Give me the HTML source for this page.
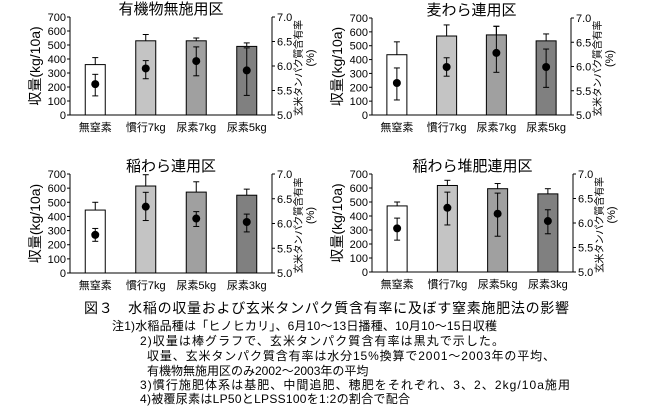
<!DOCTYPE html>
<html><head><meta charset="utf-8">
<style>
body{margin:0;background:#fff;width:652px;height:411px;overflow:hidden}
svg{display:block;font-family:"Liberation Sans","Noto Sans CJK JP",sans-serif}
</style></head><body>
<svg id="fig" width="652" height="411" viewBox="0 0 652 411">
<text x="84" y="313" font-size="14" textLength="485" lengthAdjust="spacing">図３　水稲の収量および玄米タンパク質含有率に及ぼす窒素施肥法の影響</text>
<g font-size="12">
<text x="112" y="330" textLength="385" lengthAdjust="spacing">注1)水稲品種は「ヒノヒカリ」、6月10～13日播種、10月10～15日収穫</text>
<text x="140" y="345" textLength="364" lengthAdjust="spacing">2)収量は棒グラフで、玄米タンパク質含有率は黒丸で示した。</text>
<text x="147" y="360" textLength="408" lengthAdjust="spacing">収量、玄米タンパク質含有率は水分15%換算で2001～2003年の平均、</text>
<text x="147" y="375">有機物無施用区のみ2002～2003年の平均</text>
<text x="140" y="389" textLength="430" lengthAdjust="spacing">3)慣行施肥体系は基肥、中間追肥、穂肥をそれぞれ、3、2、2kg/10a施用</text>
<text x="140" y="403" textLength="270" lengthAdjust="spacing">4)被覆尿素はLP50とLPSS100を1:2の割合で配合</text>
</g>
</svg>
<script>
const titles=["有機物無施用区","麦わら連用区","稲わら連用区","稲わら堆肥連用区"];
const cats1=["無窒素","慣行7kg","尿素7kg","尿素5kg"];
const cats2=["無窒素","慣行7kg","尿素7kg","尿素5kg"];
const cats3=["無窒素","慣行7kg","尿素5kg","尿素3kg"];
const cats4=["無窒素","慣行7kg","尿素5kg","尿素3kg"];
const yield1=[360,530,530,490], yieldErr1=[410,575,550,515];
const yield2=[435,570,578,535], yieldErr2=[528,650,640,585];
const yield3=[445,615,572,550], yieldErr3=[500,695,645,593];
const yield4=[472,618,595,558], yieldErr4=[500,655,632,595];
const prot1=[5.63,5.95,6.10,5.91], protLo1=[5.39,5.74,5.80,5.40], protHi1=[5.83,6.11,6.39,6.37];
const prot2=[5.66,5.99,6.28,5.99], protLo2=[5.31,5.80,5.88,5.57], protHi2=[5.97,6.18,6.83,6.36];
const prot3=[5.77,6.34,6.10,6.03], protLo3=[5.64,6.06,5.94,5.83], protHi3=[5.90,6.63,6.24,6.19];
const prot4=[5.89,6.31,6.19,6.04], protLo4=[5.65,5.96,5.73,5.78], protHi4=[6.10,6.63,6.61,6.27];
const leftTicks=[0,100,200,300,400,500,600,700];
const rightTicks=["5.0","5.5","6.0","6.5","7.0"];

const NS="http://www.w3.org/2000/svg";
const svg=document.getElementById('fig');
function mk(tag,attrs,parent,txt){const e=document.createElementNS(NS,tag);for(const k in attrs)e.setAttribute(k,attrs[k]);if(txt!==undefined)e.textContent=txt;parent.appendChild(e);return e;}
const panels=[
 {x0:70,x1:272,yt:17,yb:115,cats:cats1,y:yield1,ye:yieldErr1,p:prot1,lo:protLo1,hi:protHi1},
 {x0:372,x1:571,yt:18,yb:115,cats:cats2,y:yield2,ye:yieldErr2,p:prot2,lo:protLo2,hi:protHi2},
 {x0:70,x1:272,yt:174,yb:273,cats:cats3,y:yield3,ye:yieldErr3,p:prot3,lo:protLo3,hi:protHi3},
 {x0:372,x1:573,yt:174,yb:272,cats:cats4,y:yield4,ye:yieldErr4,p:prot4,lo:protLo4,hi:protHi4}];
const fills=["#ffffff","#c4c4c4","#a0a0a0","#808080"];
panels.forEach((P,i)=>{
 const g=mk('g',{},svg);
 
 
 const yL=v=>P.yb-(v/700)*(P.yb-P.yt);
 const yR=v=>P.yb-((v-5)/2)*(P.yb-P.yt);
 const step=(P.x1-P.x0)/4;
 const xc=k=>P.x0+step*(k+0.5);
 const t=mk('text',{x:(P.x0+P.x1)/2,y:P.yt-3,'font-size':15,'text-anchor':'middle'},g,titles[i]);
 
 
 P.y.forEach((v,k)=>{
  const bw=20;
  const eb=mk('line',{x1:xc(k),x2:xc(k),y1:yL(v),y2:yL(P.ye[k]),stroke:'#000','stroke-width':1},g);
  
  
  const cap=mk('line',{x1:xc(k)-3,x2:xc(k)+3,y1:yL(P.ye[k]),y2:yL(P.ye[k]),stroke:'#000','stroke-width':1},g);
  
  
  const r=mk('rect',{x:xc(k)-bw/2,y:yL(v),width:bw,height:P.yb-yL(v),fill:fills[k],stroke:'#000','stroke-width':1},g);
  
  
 });
 P.p.forEach((v,k)=>{
  const l=mk('line',{x1:xc(k),x2:xc(k),y1:yR(P.lo[k]),y2:yR(P.hi[k]),stroke:'#000','stroke-width':1},g);
  
  
  [P.lo[k],P.hi[k]].forEach(q=>{const c=mk('line',{x1:xc(k)-3,x2:xc(k)+3,y1:yR(q),y2:yR(q),stroke:'#000'},g);
   
   });
  const c=mk('circle',{cx:xc(k),cy:yR(v),r:4,fill:'#000'},g);
  
  
 });
 const ax=mk('path',{d:`M${P.x0},${P.yt} V${P.yb} H${P.x1} V${P.yt}`,fill:'none',stroke:'#000','stroke-width':1},g);
 
 
 leftTicks.forEach(v=>{
  mk('line',{x1:P.x0-3,x2:P.x0,y1:yL(v),y2:yL(v),stroke:'#000'},g);
  const tt=mk('text',{x:P.x0-4,y:yL(v)+4,'font-size':11,'text-anchor':'end'},g,v);
  
  
 });
 rightTicks.forEach(s=>{
  const v=parseFloat(s);
  mk('line',{x1:P.x1,x2:P.x1+3,y1:yR(v),y2:yR(v),stroke:'#000'},g);
  const tt=mk('text',{x:P.x1+5,y:yR(v)+4,'font-size':11},g,s);
  
  
 });
 P.cats.forEach((c,k)=>{
  const tt=mk('text',{x:xc(k),y:P.yb+16,'font-size':11,'text-anchor':'middle'},g,c);
  
  
 });
 const ym=(P.yt+P.yb)/2;
 const lt=mk('text',{x:0,y:0,'font-size':14,'text-anchor':'middle',transform:`translate(${P.x0-30},${ym}) rotate(-90)`},g,'収量(kg/10a)');
 
 
 const rt=mk('text',{x:0,y:0,'font-size':10,'text-anchor':'middle',textLength:96,lengthAdjust:'spacing',transform:`translate(${P.x1+30},${ym+2}) rotate(-90)`},g,'玄米タンパク質含有率');
 
 
 const rt2=mk('text',{x:0,y:0,'font-size':11,'text-anchor':'middle',transform:`translate(${P.x1+42},${ym-8}) rotate(-90)`},g,'(%)');
 
 
});
</script>
</body></html>
